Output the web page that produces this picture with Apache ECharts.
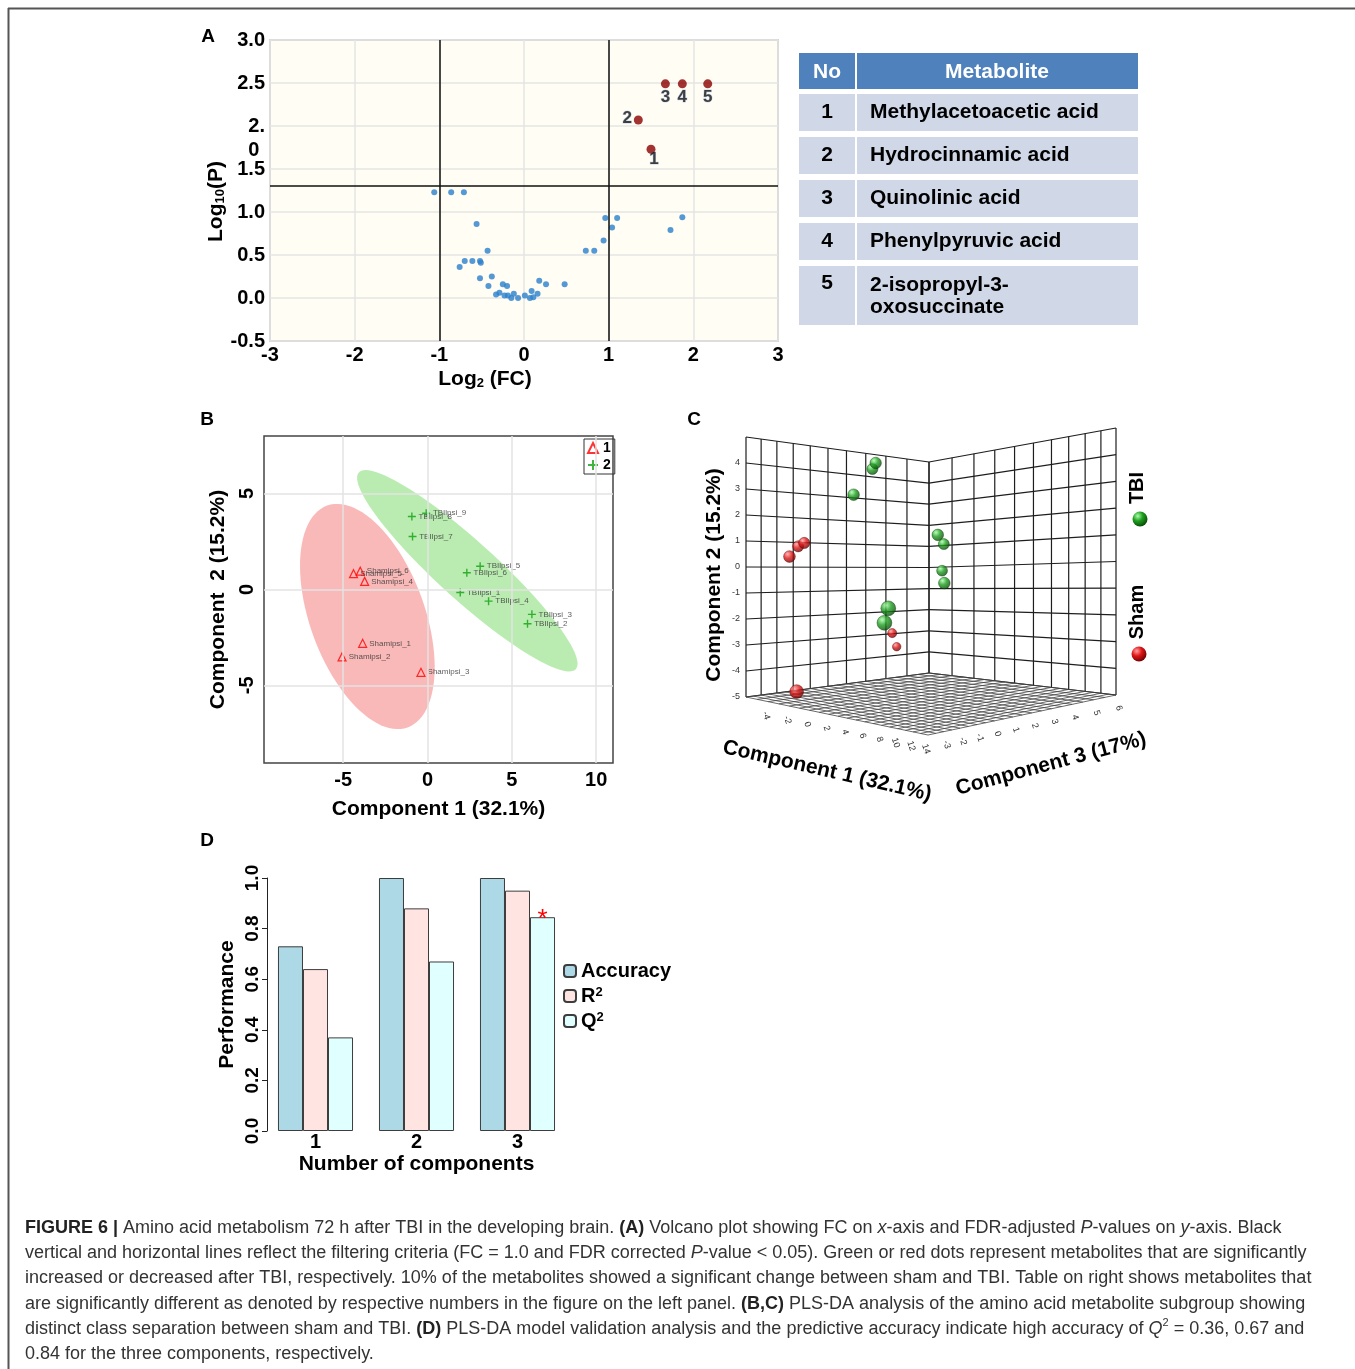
<!DOCTYPE html>
<html>
<head>
<meta charset="utf-8">
<title>Figure 6</title>
<script src="https://cdn.jsdelivr.net/npm/echarts@6/dist/echarts.min.js"></script>
<style>
  html, body { margin: 0; padding: 0; background: #fff; }
  #main { width: 1355px; height: 1369px; }
</style>
</head>
<body>
<div id="main"></div>
<script>
// A: volcano plot (log2 FC, -log10 P)
const volcanoFC = [-1.06, -0.86, -0.71, -0.56, -0.43, -0.70, -0.61, -0.52, -0.51, -0.76, -0.52, -0.38, -0.42,
  -0.25, -0.20, -0.33, -0.29, -0.23, -0.19, -0.15, -0.12, -0.07, 0.01, 0.07, 0.09, 0.11, 0.16, 0.18, 0.26,
  0.48, 0.73, 0.83, 0.94, 0.96, 1.04, 1.10, 1.73, 1.87];
const volcanoP = [1.23, 1.23, 1.23, 0.86, 0.55, 0.43, 0.43, 0.43, 0.41, 0.36, 0.23, 0.25, 0.14,
  0.16, 0.14, 0.04, 0.06, 0.03, 0.03, 0.00, 0.05, 0.00, 0.03, 0.00, 0.08, 0.01, 0.05, 0.20, 0.16,
  0.16, 0.55, 0.55, 0.67, 0.93, 0.82, 0.93, 0.79, 0.94];
const sigNo = ['1', '2', '3', '4', '5'];
const sigFC = [1.50, 1.35, 1.67, 1.87, 2.17];
const sigP = [1.73, 2.07, 2.49, 2.49, 2.49];
const metaboliteNames = ['Methylacetoacetic acid', 'Hydrocinnamic acid', 'Quinolinic acid',
  'Phenylpyruvic acid', '2-isopropyl-3-\noxosuccinate'];
const fcCut = 1.0;
const pCut = 1.301; // -log10(0.05)

// B / C: PLS-DA scores
const shamNames = ['Shamipsi_1', 'Shamipsi_2', 'Shamipsi_3', 'Shamipsi_4', 'Shamipsi_5', 'Shamipsi_6'];
const shamC1 = [-3.85, -5.07, -0.39, -3.73, -4.39, -3.99];
const shamC2 = [-2.81, -3.52, -4.32, 0.42, 0.82, 0.95];
const shamC3 = [3.1, 4.0, -4.6, -2.8, -1.8, -1.7];
const tbiNames = ['TBIlpsi_1', 'TBIlpsi_2', 'TBIlpsi_3', 'TBIlpsi_4', 'TBIlpsi_5', 'TBIlpsi_6',
  'TBIlpsi_7', 'TBIlpsi_8', 'TBIlpsi_9'];
const tbiC1 = [1.94, 5.93, 6.19, 3.62, 3.12, 2.33, -0.89, -0.93, -0.08];
const tbiC2 = [-0.16, -1.79, -1.30, -0.61, 1.21, 0.87, 2.76, 3.80, 3.97];
const tbiC3 = [2.6, -2.7, -2.6, 1.9, 1.8, 2.5, -0.7, 0.4, 0.1];

// C: 3D box ticks
const c1Ticks = [-6, -4, -2, 0, 2, 4, 6, 8, 10, 12, 14];
const c2Ticks = [-5, -4, -3, -2, -1, 0, 1, 2, 3, 4, 5];
const c3Ticks = [-4, -3, -2, -1, 0, 1, 2, 3, 4, 5, 6];

// D: model validation
const nComponents = ['1', '2', '3'];
const accuracy = [0.73, 1.0, 1.0];
const r2 = [0.64, 0.88, 0.95];
const q2 = [0.37, 0.67, 0.845];

const font = '"Liberation Sans", Arial, Helvetica, sans-serif';
const chart = echarts.init(document.getElementById('main'));

// 95% confidence ellipse of a group of score points
function confEllipse(xs, ys) {
  const n = xs.length;
  const mx = xs.reduce((a, b) => a + b, 0) / n;
  const my = ys.reduce((a, b) => a + b, 0) / n;
  let sxx = 0, syy = 0, sxy = 0;
  for (let i = 0; i < n; i++) {
    sxx += (xs[i] - mx) ** 2; syy += (ys[i] - my) ** 2; sxy += (xs[i] - mx) * (ys[i] - my);
  }
  sxx /= n - 1; syy /= n - 1; sxy /= n - 1;
  const tr = sxx + syy, det = sxx * syy - sxy * sxy;
  const l1 = tr / 2 + Math.sqrt(tr * tr / 4 - det), l2 = tr / 2 - Math.sqrt(tr * tr / 4 - det);
  const ang = Math.atan2(l1 - sxx, sxy);
  const k = Math.sqrt(5.991);
  const a = k * Math.sqrt(l1), b = k * Math.sqrt(l2);
  const pts = [];
  for (let i = 0; i < 100; i++) {
    const t = i / 100 * Math.PI * 2;
    const ex = a * Math.cos(t), ey = b * Math.sin(t);
    pts.push([mx + ex * Math.cos(ang) - ey * Math.sin(ang), my + ex * Math.sin(ang) + ey * Math.cos(ang)]);
  }
  return pts;
}
const shamEllipse = confEllipse(shamC1, shamC2);
const tbiEllipse = confEllipse(tbiC1, tbiC2);

// perspective box for panel C: screen position of its four vertical edges
const c1Min = c1Ticks[0], c1Max = c1Ticks[c1Ticks.length - 1];
const c2Min = c2Ticks[0], c2Max = c2Ticks[c2Ticks.length - 1];
const c3Min = c3Ticks[0], c3Max = c3Ticks[c3Ticks.length - 1];
const edge = {
  L: { x: 746, bot: 697, top: 437, w: 260 },
  F: { x: 928, bot: 735, top: 410, w: 325 },
  B: { x: 929, bot: 673, top: 462, w: 211 },
  R: { x: 1116, bot: 695, top: 428, w: 267 }
};
function project(x, y, z) {
  const u = (x - c1Min) / (c1Max - c1Min);
  const v = (z - c3Min) / (c3Max - c3Min);
  const t = (y - c2Min) / (c2Max - c2Min);
  const parts = [[edge.L, (1 - u) * (1 - v)], [edge.F, u * (1 - v)], [edge.B, (1 - u) * v], [edge.R, u * v]];
  let W = 0, X = 0, Y = 0;
  parts.forEach(([e, l]) => {
    const k = l * e.w;
    W += k; X += k * e.x; Y += k * (e.bot + t * (e.top - e.bot));
  });
  return [X / W, Y / W, W];
}

// walls: one line per tick; floor: ticks plus half steps
const halfSteps = ticks => ticks.flatMap((t, i) => i ? [(ticks[i - 1] + t) / 2, t] : [t]);
const wallSegs = [];
c3Ticks.forEach(z => wallSegs.push([c1Min, c2Min, z, c1Min, c2Max, z, 1]));
c2Ticks.forEach(y => wallSegs.push([c1Min, y, c3Min, c1Min, y, c3Max, 1]));
c1Ticks.forEach(x => wallSegs.push([x, c2Min, c3Max, x, c2Max, c3Max, 1]));
c2Ticks.forEach(y => wallSegs.push([c1Min, y, c3Max, c1Max, y, c3Max, 1]));
halfSteps(c1Ticks).forEach(x => wallSegs.push([x, c2Min, c3Min, x, c2Min, c3Max, 0]));
halfSteps(c3Ticks).forEach(z => wallSegs.push([c1Min, c2Min, z, c1Max, c2Min, z, 0]));

function spheres(c1, c2, c3) {
  return c1.map((x, i) => project(x, c2[i], c3[i])).sort((a, b) => a[2] - b[2]);
}
function ball(light, mid, dark) {
  return { type: 'radial', x: 0.35, y: 0.3, r: 0.75,
    colorStops: [{ offset: 0, color: light }, { offset: 0.45, color: mid }, { offset: 1, color: dark }] };
}
const greenBall = ball('#a8ffa8', '#1f9e1f', '#064806');
const redBall = ball('#ffa0a0', '#e01616', '#6a0000');
const ballSize = v => 8.6 * Math.pow(v[2] / 225, 2.1);

function tickText(data, dim, dx, dy, rot, align) {
  return {
    type: 'custom', xAxisIndex: 2, yAxisIndex: 2, silent: true, data: data,
    renderItem: (params, api) => {
      const p = project(api.value(0), api.value(1), api.value(2));
      const c = api.coord([p[0], p[1]]);
      return { type: 'text', x: c[0] + dx, y: c[1] + dy, rotation: rot,
        style: { text: String(api.value(dim)), fontSize: 9, fontFamily: font, fill: '#333',
          align: align, verticalAlign: 'middle' } };
    }
  };
}

const bold = (size) => ({ fontSize: size, fontWeight: 'bold', color: '#000', fontFamily: font });

// table (panel A, right)
const table = [];
table.push({ type: 'rect', shape: { x: 799, y: 53, width: 56, height: 36 }, style: { fill: '#4f81bd' } });
table.push({ type: 'rect', shape: { x: 857, y: 53, width: 281, height: 36 }, style: { fill: '#4f81bd' } });
table.push({ type: 'text', x: 827, y: 72, style: { text: 'No', fill: '#fff', fontSize: 21, fontWeight: 'bold', fontFamily: font, align: 'center', verticalAlign: 'middle' } });
table.push({ type: 'text', x: 997, y: 72, style: { text: 'Metabolite', fill: '#fff', fontSize: 21, fontWeight: 'bold', fontFamily: font, align: 'center', verticalAlign: 'middle' } });
let rowTop = 94;
metaboliteNames.forEach((name, i) => {
  const lines = name.split('\n').length;
  const h = 37 + (lines - 1) * 22;
  table.push({ type: 'rect', shape: { x: 799, y: rowTop, width: 56, height: h }, style: { fill: '#d0d8e8' } });
  table.push({ type: 'rect', shape: { x: 857, y: rowTop, width: 281, height: h }, style: { fill: '#d0d8e8' } });
  const multi = lines > 1;
  table.push({ type: 'text', x: 827, y: multi ? rowTop + 7 : rowTop + 18.5, style: { text: sigNo[i], fill: '#000', fontSize: 21, fontWeight: 'bold', fontFamily: font, align: 'center', verticalAlign: multi ? 'top' : 'middle' } });
  table.push({ type: 'text', x: 870, y: multi ? rowTop + 8 : rowTop + 18.5, style: { text: name, fill: '#000', fontSize: 21, fontWeight: 'bold', fontFamily: font, lineHeight: 22, align: 'left', verticalAlign: multi ? 'top' : 'middle' } });
  rowTop += h + 6;
});

const captionLines = [
  '{b|FIGURE 6 |} Amino acid metabolism 72 h after TBI in the developing brain. {b|(A)} Volcano plot showing FC on {i|x}-axis and FDR-adjusted {i|P}-values on {i|y}-axis. Black',
  'vertical and horizontal lines reflect the filtering criteria (FC = 1.0 and FDR corrected {i|P}-value < 0.05). Green or red dots represent metabolites that are significantly',
  'increased or decreased after TBI, respectively. 10% of the metabolites showed a significant change between sham and TBI. Table on right shows metabolites that',
  'are significantly different as denoted by respective numbers in the figure on the left panel. {b|(B,C)} PLS-DA analysis of the amino acid metabolite subgroup showing',
  'distinct class separation between sham and TBI. {b|(D)} PLS-DA model validation analysis and the predictive accuracy indicate high accuracy of {i|Q}{sup|2} = 0.36, 0.67 and',
  '0.84 for the three components, respectively.'
];
const capSize = 18;
const caption = captionLines.map((line, i) => ({
  type: 'text', x: 25, y: 1228 + i * 25.2,
  style: {
    text: line, fontSize: capSize, fontFamily: font, fill: '#333', lineHeight: 22, verticalAlign: 'middle',
    rich: {
      b: { fontSize: capSize, fontWeight: 'bold', fontFamily: font, fill: '#222', lineHeight: 22 },
      i: { fontSize: capSize, fontStyle: 'italic', fontFamily: font, fill: '#333', lineHeight: 22 },
      sup: { fontSize: 11, fontFamily: font, fill: '#333', verticalAlign: 'top', lineHeight: 22 }
    }
  }
}));

const panelLetter = (t, x, y) => ({ type: 'text', x: x, y: y, style: { text: t, fontSize: 19, fontWeight: 'bold', fontFamily: font, fill: '#000', align: 'center', verticalAlign: 'middle' } });
const rotText = (t, x, y, deg, size) => ({ type: 'text', x: x, y: y, rotation: deg * Math.PI / 180,
  style: { text: t, fontSize: size, fontWeight: 'bold', fontFamily: font, fill: '#000', align: 'center', verticalAlign: 'middle' } });

const option = {
  animation: false,
  backgroundColor: '#fff',
  textStyle: { fontFamily: font },
  grid: [
    { left: 270, top: 40, width: 508, height: 301, show: true, backgroundColor: '#fffdf4', borderColor: '#b5b5b5', borderWidth: 1.5 },
    { left: 264, top: 436, width: 349, height: 327, show: true, backgroundColor: 'transparent', borderColor: '#444', borderWidth: 1.5 },
    { left: 0, top: 0, width: 1355, height: 1369, show: false },
    { left: 265, top: 878, width: 303, height: 253, show: false }
  ],
  xAxis: [
    { type: 'value', gridIndex: 0, min: -3, max: 3, interval: 1,
      axisLine: { show: false }, axisTick: { show: false },
      splitLine: { lineStyle: { color: '#e4e4e4', width: 1.5 } },
      axisLabel: Object.assign(bold(20), { margin: 4 }),
      name: '{n|Log}{s|2}{n| (FC)}', nameLocation: 'middle', nameGap: 28,
      nameTextStyle: { padding: [0, 78, 0, 0], rich: { n: bold(21), s: Object.assign(bold(13), { verticalAlign: 'bottom', padding: [8, 0, 0, 0] }) } } },
    { type: 'value', gridIndex: 1, min: -9.7, max: 11,
      axisLine: { show: false }, axisTick: { show: false }, splitLine: { show: false },
      axisLabel: Object.assign(bold(20), { margin: 7, customValues: [-5, 0, 5, 10] }),
      name: 'Component 1 (32.1%)', nameLocation: 'middle', nameGap: 36, nameTextStyle: bold(21) },
    { type: 'value', gridIndex: 2, min: 0, max: 1355, show: false },
    { type: 'category', gridIndex: 3, data: nComponents,
      axisLine: { show: false }, axisTick: { show: false },
      axisLabel: Object.assign(bold(20), { margin: 1 }),
      name: 'Number of components', nameLocation: 'middle', nameGap: 23, nameTextStyle: bold(21) }
  ],
  yAxis: [
    { type: 'value', gridIndex: 0, min: -0.5, max: 3, interval: 0.5,
      axisLine: { show: false }, axisTick: { show: false },
      splitLine: { lineStyle: { color: '#e4e4e4', width: 1.5 } },
      axisLabel: Object.assign(bold(20), { margin: 5,
        formatter: v => v === 2 ? '{t| }\n{t|2.}\n{t|0 }' : v.toFixed(1),
        rich: { t: Object.assign(bold(20), { lineHeight: 24 }) } }),
      name: '{n|Log}{s|10}{n|(P)}', nameLocation: 'middle', nameGap: 38, nameRotate: 90,
      nameTextStyle: { padding: [0, 22, 0, 0], rich: { n: bold(21), s: Object.assign(bold(13), { verticalAlign: 'bottom', padding: [8, 0, 0, 0] }) } } },
    { type: 'value', gridIndex: 1, min: -9.05, max: 8.0,
      axisLine: { show: false }, axisTick: { show: false }, splitLine: { show: false },
      axisLabel: Object.assign(bold(20), { margin: 7, rotate: 90, customValues: [-5, 0, 5] }),
      name: 'Component  2 (15.2%)', nameLocation: 'middle', nameGap: 35, nameRotate: 90, nameTextStyle: bold(21) },
    { type: 'value', gridIndex: 2, min: 0, max: 1369, inverse: true, show: false },
    { type: 'value', gridIndex: 3, min: 0, max: 1, interval: 0.2, offset: -2,
      axisLine: { show: true, lineStyle: { color: '#222', width: 1 } },
      axisTick: { show: true, length: 5, lineStyle: { color: '#222' } },
      splitLine: { show: false },
      axisLabel: Object.assign(bold(19), { margin: 5, rotate: 90, formatter: v => v.toFixed(1) }),
      name: 'Performance', nameLocation: 'middle', nameGap: 29, nameRotate: 90, nameTextStyle: bold(21) }
  ],
  legend: [
    { data: ['1', '2'], orient: 'vertical', left: 584, top: 439, itemWidth: 10, itemHeight: 10, itemGap: 3,
      padding: [2, 4, 2, 3], borderColor: '#333', borderWidth: 1, selectedMode: false,
      textStyle: bold(14) },
    { data: ['Accuracy', 'R2', 'Q2'], orient: 'vertical', left: 558, top: 956, itemWidth: 12, itemHeight: 12, itemGap: 5,
      selectedMode: false,
      formatter: name => name === 'Accuracy' ? '{n|Accuracy}' : '{n|' + name[0] + '}{s|' + name[1] + '}',
      textStyle: Object.assign(bold(20), { rich: { n: bold(20), s: Object.assign(bold(13), { verticalAlign: 'top', padding: [0, 0, 6, 0] }) } }) }
  ],
  series: [
    // A
    { name: 'all metabolites', type: 'scatter', xAxisIndex: 0, yAxisIndex: 0,
      data: volcanoFC.map((x, i) => [x, volcanoP[i]]),
      symbolSize: 6, itemStyle: { color: '#2a7fcc' },
      markLine: { symbol: 'none', silent: true, label: { show: false },
        lineStyle: { color: '#111', width: 1.5, type: 'solid' },
        data: [{ xAxis: -fcCut }, { xAxis: fcCut }, { yAxis: pCut }] } },
    { name: 'significant', type: 'scatter', xAxisIndex: 0, yAxisIndex: 0,
      data: sigFC.map((x, i) => ({ value: [x, sigP[i]], name: sigNo[i] })),
      symbolSize: 9, itemStyle: { color: '#8b0000' },
      label: { show: true, formatter: '{b}', position: 'bottom', distance: 1, fontSize: 17, fontWeight: 'bold', color: '#111',
        textBorderColor: 'rgba(60,120,210,0.35)', textBorderWidth: 1 },
      labelLayout: p => [{ dx: 3, dy: -4 }, { dx: -11, dy: -16 }, { dx: 0, dy: -1 }, { dx: 0, dy: -1 }, { dx: 0, dy: -1 }][p.dataIndex] },
    // B
    { name: 'grid B', type: 'line', xAxisIndex: 1, yAxisIndex: 1, data: [], z: 1,
      markLine: { symbol: 'none', silent: true, label: { show: false }, lineStyle: { color: '#e3e3e3', width: 1.5, type: 'solid' },
        data: [{ xAxis: -5 }, { xAxis: 0 }, { xAxis: 5 }, { xAxis: 10 }, { yAxis: -5 }, { yAxis: 0 }, { yAxis: 5 }] } },
    { name: 'ellipse sham', type: 'custom', xAxisIndex: 1, yAxisIndex: 1, z: 2, silent: true, data: [[0, 0]],
      renderItem: (params, api) => ({ type: 'polygon', shape: { points: shamEllipse.map(p => api.coord(p)) },
        style: { fill: 'rgba(242,100,100,0.45)' } }) },
    { name: 'ellipse tbi', type: 'custom', xAxisIndex: 1, yAxisIndex: 1, z: 2, silent: true, data: [[0, 0]],
      renderItem: (params, api) => ({ type: 'polygon', shape: { points: tbiEllipse.map(p => api.coord(p)) },
        style: { fill: 'rgba(110,215,95,0.48)' } }) },
    { name: '1', type: 'scatter', xAxisIndex: 1, yAxisIndex: 1, z: 3,
      data: shamC1.map((x, i) => ({ value: [x, shamC2[i]], name: shamNames[i] })),
      symbol: 'triangle', symbolSize: 8, itemStyle: { color: 'rgba(0,0,0,0)', borderColor: '#ff0000', borderWidth: 1.2 },
      label: { show: true, formatter: '{b}', position: 'right', distance: 2, fontSize: 8, color: '#333' } },
    { name: '2', type: 'scatter', xAxisIndex: 1, yAxisIndex: 1, z: 3,
      data: tbiC1.map((x, i) => ({ value: [x, tbiC2[i]], name: tbiNames[i] })),
      symbol: 'path://M5,0L5,10M0,5L10,5', symbolSize: 8, itemStyle: { color: 'rgba(0,0,0,0)', borderColor: '#10a010', borderWidth: 1.4 },
      label: { show: true, formatter: '{b}', position: 'right', distance: 2, fontSize: 8, color: '#333' } },
    // C
    { name: 'box', type: 'custom', xAxisIndex: 2, yAxisIndex: 2, silent: true, data: wallSegs,
      renderItem: (params, api) => {
        const a = project(api.value(0), api.value(1), api.value(2));
        const b = project(api.value(3), api.value(4), api.value(5));
        const p = api.coord([a[0], a[1]]), q = api.coord([b[0], b[1]]);
        const wall = api.value(6) === 1;
        return { type: 'line', shape: { x1: p[0], y1: p[1], x2: q[0], y2: q[1] },
          style: { stroke: wall ? '#1e1e1e' : '#444', lineWidth: wall ? 1.2 : 0.8 } };
      } },
    tickText(c2Ticks.slice(0, -1).map(y => [c1Min, y, c3Min]), 1, -6, 0, 0, 'right'),
    tickText(c1Ticks.slice(1).map(x => [x, c2Min, c3Min]), 0, -2, 14, -72 * Math.PI / 180, 'center'),
    tickText(c3Ticks.slice(1).map(z => [c1Max, c2Min, z]), 2, 3, 13, -72 * Math.PI / 180, 'center'),
    { name: 'Sham', type: 'scatter', xAxisIndex: 2, yAxisIndex: 2, z: 4,
      data: spheres(shamC1, shamC2, shamC3), symbolSize: ballSize,
      itemStyle: { color: redBall, borderColor: '#400', borderWidth: 0.5 } },
    { name: 'TBI', type: 'scatter', xAxisIndex: 2, yAxisIndex: 2, z: 4,
      data: spheres(tbiC1, tbiC2, tbiC3), symbolSize: ballSize,
      itemStyle: { color: greenBall, borderColor: '#030', borderWidth: 0.5 } },
    // D
    { name: 'Accuracy', type: 'bar', xAxisIndex: 3, yAxisIndex: 3, data: accuracy, barGap: '0%', barCategoryGap: '25.7%',
      itemStyle: { color: '#add8e6', borderColor: '#3d3d3d', borderWidth: 1 } },
    { name: 'R2', type: 'bar', xAxisIndex: 3, yAxisIndex: 3, data: r2, barGap: '0%', barCategoryGap: '25.7%',
      itemStyle: { color: '#ffe4e1', borderColor: '#3d3d3d', borderWidth: 1 } },
    { name: 'Q2', type: 'bar', xAxisIndex: 3, yAxisIndex: 3, data: q2, barGap: '0%', barCategoryGap: '25.7%',
      itemStyle: { color: '#e0ffff', borderColor: '#3d3d3d', borderWidth: 1 },
      label: { show: true, position: 'top', distance: 0, offset: [0, 16], color: '#ff0000', fontSize: 26,
        formatter: p => p.value === Math.max(...q2) ? '*' : '' } }
  ],
  graphic: [
    { type: 'line', shape: { x1: 8, y1: 8.5, x2: 1355, y2: 8.5 }, style: { stroke: '#555', lineWidth: 2 } },
    { type: 'line', shape: { x1: 8.5, y1: 8, x2: 8.5, y2: 1369 }, style: { stroke: '#555', lineWidth: 2 } },
    panelLetter('A', 208, 37), panelLetter('B', 207, 420), panelLetter('C', 694, 420), panelLetter('D', 207, 841),
    rotText('Component 2 (15.2%)', 714, 575, 90, 21),
    rotText('Component 1 (32.1%)', 827, 771, -13, 21),
    rotText('Component 3 (17%)', 1051, 764, 15, 21),
    rotText('TBI', 1137, 488, 90, 20),
    rotText('Sham', 1137, 612, 90, 20),
    { type: 'circle', shape: { cx: 1140, cy: 519, r: 7.5 }, style: { fill: greenBall } },
    { type: 'circle', shape: { cx: 1139, cy: 654, r: 7.5 }, style: { fill: redBall } }
  ].concat(table, caption)
};

chart.setOption(option);
window.addEventListener('resize', function () {
  chart.resize();
}, false);
</script>
</body>
</html>
